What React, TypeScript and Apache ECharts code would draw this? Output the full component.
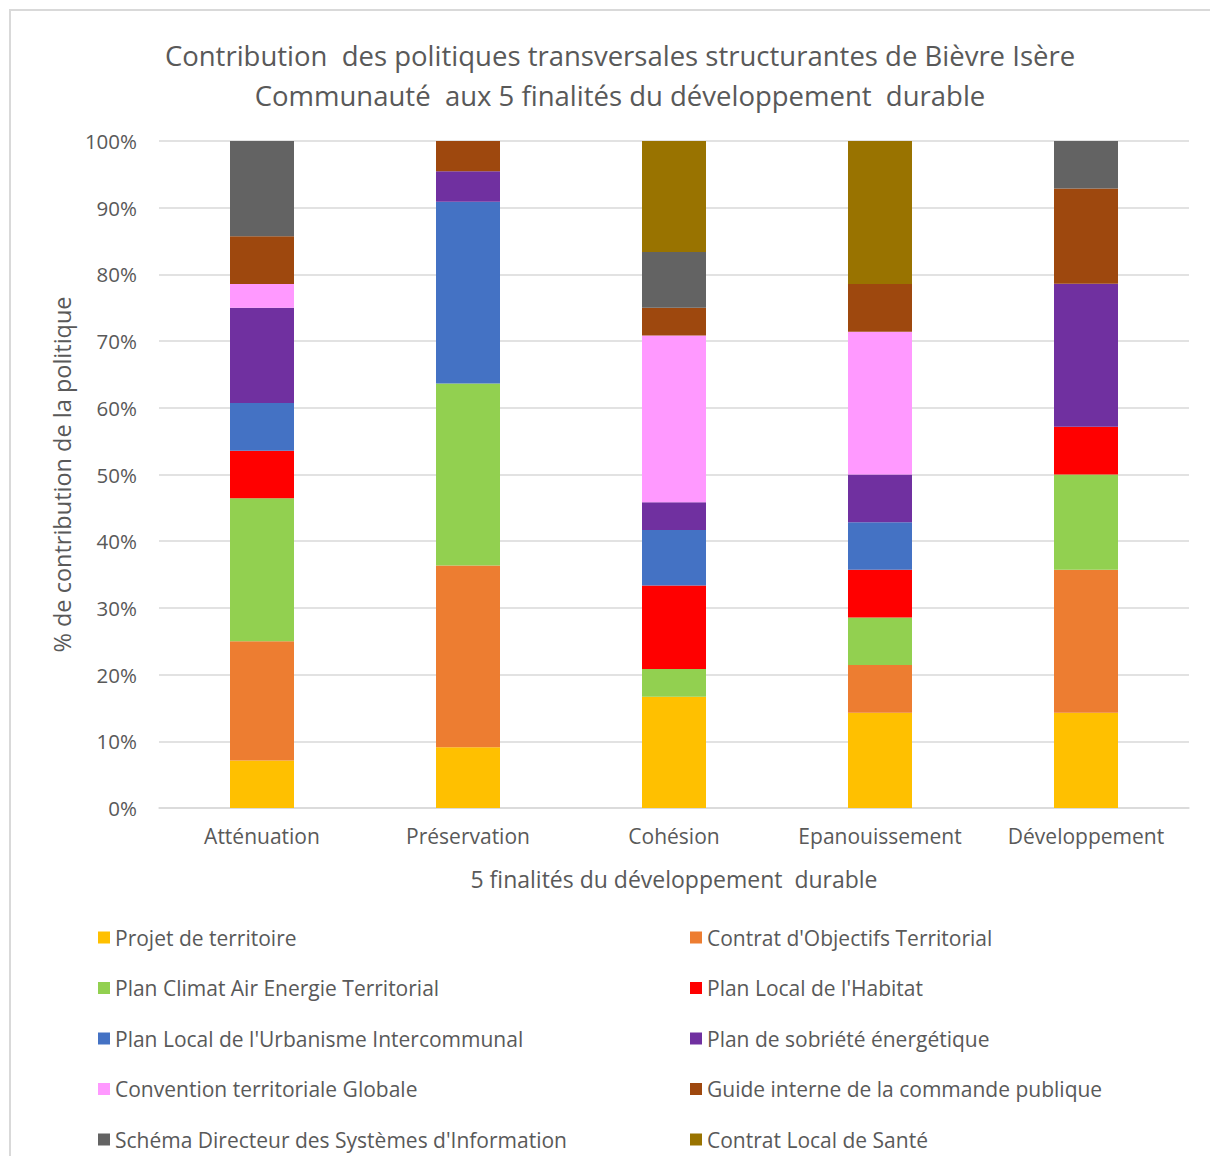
import React, { useEffect, useRef } from "react";
import * as echarts from "echarts";

const categories = ["Atténuation", "Préservation", "Cohésion", "Epanouissement", "Développement"];

const seriesNames = [
  "Projet de territoire",
  "Contrat d'Objectifs Territorial",
  "Plan Climat Air Energie Territorial",
  "Plan Local de l'Habitat",
  "Plan Local de l'Urbanisme Intercommunal",
  "Plan de sobriété énergétique",
  "Convention territoriale Globale",
  "Guide interne de la commande publique",
  "Schéma Directeur des Systèmes d'Information",
  "Contrat Local de Santé",
];

const seriesColors = [
  "#FFC000", "#ED7D31", "#92D050", "#FF0000", "#4472C4",
  "#7030A0", "#FF99FF", "#9E480E", "#636363", "#997300",
];

const projet = [7.14, 9.09, 16.67, 14.29, 14.29];
const cot = [17.86, 27.27, 0, 7.14, 21.43];
const pcaet = [21.43, 27.27, 4.17, 7.14, 14.29];
const plh = [7.14, 0, 12.5, 7.14, 7.14];
const plui = [7.14, 27.27, 8.33, 7.14, 0];
const sobriete = [14.29, 4.55, 4.17, 7.14, 21.43];
const ctg = [3.57, 0, 25.0, 21.43, 0];
const guide = [7.14, 4.55, 4.17, 7.14, 14.29];
const sdsi = [14.29, 0, 8.33, 0, 7.14];
const cls = [0, 0, 16.67, 21.43, 0];

const seriesValues = [projet, cot, pcaet, plh, plui, sobriete, ctg, guide, sdsi, cls];

const FONT = "'Open Sans', Lato, sans-serif";
const TXT = "#595959";

export default function App() {
  const ref = useRef<HTMLDivElement>(null);

  useEffect(() => {
    if (!ref.current) return;
    const chart = echarts.init(ref.current, undefined, { renderer: "svg" });
    const legendText = {
      color: TXT,
      fontSize: 21,
      fontFamily: FONT,
      height: 21,
      lineHeight: 21,
    };
    const legendBase = {
      orient: "vertical",
      top: 927,
      height: 260,
      width: 540,
      itemWidth: 12,
      itemHeight: 12,
      itemGap: 29.5,
      icon: "rect",
      padding: 0,
      textStyle: legendText,
    };
    const option = {
      animation: false,
      backgroundColor: "#ffffff",
      textStyle: { fontFamily: FONT },
      title: {
        text: "Contribution  des politiques transversales structurantes de Bièvre Isère\nCommunauté  aux 5 finalités du développement  durable",
        left: 620,
        textAlign: "center",
        top: 35,
        padding: 0,
        textStyle: {
          color: TXT,
          fontSize: 27.5,
          fontWeight: "normal",
          fontFamily: FONT,
          lineHeight: 40,
        },
      },
      legend: [
        {
          ...legendBase,
          left: 98,
          data: [0, 2, 4, 6, 8].map((i) => seriesNames[i]),
        },
        {
          ...legendBase,
          left: 690,
          data: [1, 3, 5, 7, 9].map((i) => seriesNames[i]),
        },
      ],
      grid: { left: 159, right: 21, top: 141, bottom: 348 },
      xAxis: {
        type: "category",
        data: categories,
        name: "5 finalités du développement  durable",
        nameLocation: "middle",
        nameGap: 59,
        nameTextStyle: { color: TXT, fontSize: 23, fontFamily: FONT },
        axisLine: { lineStyle: { color: "#d9d9d9", width: 1.5 } },
        axisTick: { show: false },
        axisLabel: {
          color: TXT,
          fontSize: 21,
          fontFamily: FONT,
          margin: 17,
          interval: 0,
          hideOverlap: false,
        },
      },
      yAxis: {
        type: "value",
        min: 0,
        max: 100,
        interval: 10,
        name: "% de contribution de la politique",
        nameLocation: "middle",
        nameGap: 83,
        nameTextStyle: { color: TXT, fontSize: 23.5, fontFamily: FONT },
        axisLine: { show: false },
        axisTick: { show: false },
        axisLabel: {
          color: TXT,
          fontSize: 20.5,
          fontFamily: FONT,
          margin: 22,
          formatter: "{value}%",
        },
        splitLine: { lineStyle: { color: "#d9d9d9", width: 1.5 } },
      },
      series: seriesNames.map((name, i) => ({
        name,
        type: "bar",
        stack: "total",
        barWidth: 64,
        itemStyle: { color: seriesColors[i] },
        data: seriesValues[i],
      })),
    };
    chart.setOption(option as any);
    return () => chart.dispose();
  }, []);

  return (
    <div style={{ position: "absolute", left: 0, top: 0, width: 1210, height: 1156, background: "#fff" }}>
      <div ref={ref} style={{ position: "absolute", left: 0, top: 0, width: 1210, height: 1156 }} />
      <div
        style={{
          position: "absolute",
          left: 9,
          top: 9,
          width: 1220,
          height: 1170,
          border: "2px solid #d9d9d9",
          pointerEvents: "none",
          boxSizing: "border-box",
        }}
      />
    </div>
  );
}
